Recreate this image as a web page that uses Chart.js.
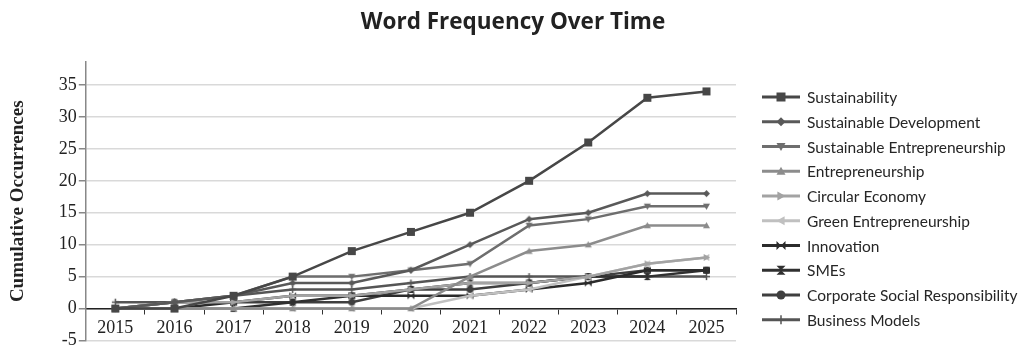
<!DOCTYPE html>
<html>
<head>
<meta charset="utf-8">
<title>Word Frequency Over Time</title>
<script src="https://cdn.jsdelivr.net/npm/chart.js@4.4.1/dist/chart.umd.min.js"></script>
<style>
    html, body { margin: 0; padding: 0; background: #fff; }
    #chartContainer { width: 1024px; height: 347px; }
</style>
</head>
<body>
<div id="chartContainer"><canvas id="myChart"></canvas></div>
<script>
// years on the x axis
const years = ['2015', '2016', '2017', '2018', '2019', '2020', '2021', '2022', '2023', '2024', '2025'];

// cumulative counts per keyword
const sustainability = [0, 0, 2, 5, 9, 12, 15, 20, 26, 33, 34];
const sustainableDevelopment = [0, 1, 2, 4, 4, 6, 10, 14, 15, 18, 18];
const sustainableEntrepreneurship = [0, 1, 2, 5, 5, 6, 7, 13, 14, 16, 16];
const entrepreneurship = [0, 0, 0, 0, 0, 0, 5, 9, 10, 13, 13];
const circularEconomy = [0, 1, 1, 2, 2, 3, 4, 4, 5, 7, 8];
const greenEntrepreneurship = [0, 0, 0, 0, 0, 0, 2, 3, 5, 7, 8];
const innovation = [0, 0, 1, 2, 2, 2, 2, 3, 4, 6, 6];
const smes = [0, 0, 0, 1, 2, 3, 4, 4, 5, 5, 6];
const csr = [0, 1, 1, 1, 1, 3, 3, 4, 5, 6, 6];
const businessModels = [1, 1, 2, 3, 3, 4, 5, 5, 5, 5, 5];

const seriesNames = ['Sustainability', 'Sustainable Development', 'Sustainable Entrepreneurship',
    'Entrepreneurship', 'Circular Economy', 'Green Entrepreneurship', 'Innovation', 'SMEs',
    'Corporate Social Responsibility', 'Business Models'];
const seriesValues = [sustainability, sustainableDevelopment, sustainableEntrepreneurship,
    entrepreneurship, circularEconomy, greenEntrepreneurship, innovation, smes, csr, businessModels];

// y axis tick values
const yTicks = [-5, 0, 5, 10, 15, 20, 25, 30, 35];

// look of each series
const lineColors = ['#474747', '#595959', '#6e6e6e', '#8c8c8c', '#a3a3a3', '#c0c0c0',
    '#2b2b2b', '#303030', '#3f3f3f', '#555555'];
const markerShapes = ['square', 'diamond', 'triDown', 'triUp', 'triRight', 'triLeft',
    'bowtie', 'hourglass', 'circle', 'plus'];


// draws one marker shape centred on x/y
function drawMarker(ctx, shape, x, y, r) {
    ctx.beginPath();
    switch (shape) {
        case 'square':
            ctx.rect(x - r, y - r, 2 * r, 2 * r);
            break;
        case 'diamond':
            ctx.moveTo(x, y - r); ctx.lineTo(x + r, y); ctx.lineTo(x, y + r); ctx.lineTo(x - r, y);
            break;
        case 'triUp':
            ctx.moveTo(x, y - r); ctx.lineTo(x + r, y + r * 0.8); ctx.lineTo(x - r, y + r * 0.8);
            break;
        case 'triDown':
            ctx.moveTo(x, y + r); ctx.lineTo(x + r, y - r * 0.8); ctx.lineTo(x - r, y - r * 0.8);
            break;
        case 'triRight':
            ctx.moveTo(x + r, y); ctx.lineTo(x - r * 0.8, y - r); ctx.lineTo(x - r * 0.8, y + r);
            break;
        case 'triLeft':
            ctx.moveTo(x - r, y); ctx.lineTo(x + r * 0.8, y - r); ctx.lineTo(x + r * 0.8, y + r);
            break;
        case 'bowtie':
            ctx.moveTo(x - r, y - r); ctx.lineTo(x, y); ctx.lineTo(x - r, y + r); ctx.closePath();
            ctx.moveTo(x + r, y - r); ctx.lineTo(x, y); ctx.lineTo(x + r, y + r);
            break;
        case 'hourglass':
            ctx.moveTo(x - r, y - r); ctx.lineTo(x + r, y - r); ctx.lineTo(x, y); ctx.closePath();
            ctx.moveTo(x - r, y + r); ctx.lineTo(x + r, y + r); ctx.lineTo(x, y);
            break;
        case 'circle':
            ctx.arc(x, y, r, 0, Math.PI * 2);
            break;
        case 'plus':
            ctx.moveTo(x - r, y); ctx.lineTo(x + r, y);
            ctx.moveTo(x, y - r); ctx.lineTo(x, y + r);
            ctx.stroke();
            return;
    }
    ctx.closePath();
    ctx.fill();
}

// small canvas used as pointStyle for the lines
function markerImage(shape, color, r) {
    let c = document.createElement('canvas');
    let size = Math.ceil(r * 2 + 4);
    c.width = size;
    c.height = size;
    let g = c.getContext('2d');
    g.fillStyle = color;
    g.strokeStyle = color;
    g.lineWidth = 1.5;
    drawMarker(g, shape, size / 2, size / 2, r);
    return c;
}


// legend on the right: thick line with the marker in the middle
const sideLegend = {
    id: 'sideLegend',
    afterDraw(chart, args, opts) {
        let ctx = chart.ctx;
        let x0 = chart.chartArea.right + opts.gap;
        chart.data.datasets.forEach((ds, i) => {
            let y = opts.top + i * opts.spacing;
            ctx.save();
            ctx.strokeStyle = ds.borderColor;
            ctx.fillStyle = ds.borderColor;
            ctx.lineWidth = 3;
            ctx.beginPath();
            ctx.moveTo(x0, y);
            ctx.lineTo(x0 + opts.lineLength, y);
            ctx.stroke();
            ctx.lineWidth = 1.5;
            drawMarker(ctx, markerShapes[i], x0 + opts.lineLength / 2, y, 4.5);
            ctx.fillStyle = '#262626';
            ctx.font = opts.font;
            ctx.textBaseline = 'middle';
            ctx.fillText(ds.label, x0 + opts.lineLength + 7, y + 1);
            ctx.restore();
        });
    }
};


let datasets = seriesNames.map((name, i) => ({
    label: name,
    data: seriesValues[i],
    borderColor: lineColors[i],
    backgroundColor: lineColors[i],
    borderWidth: 2.5,
    tension: 0,
    fill: false,
    pointStyle: markerImage(markerShapes[i], lineColors[i], markerShapes[i] == 'square' ? 4 : 3.5)
}));

const serif = "'Liberation Serif', 'DejaVu Serif', serif";

const config = {
    type: 'line',
    data: { labels: years, datasets: datasets },
    options: {
        responsive: true,
        maintainAspectRatio: false,
        animation: false,
        layout: { padding: { top: 0, left: 2, right: 0, bottom: 0 } },
        plugins: {
            legend: { display: false },
            tooltip: { enabled: false },
            title: {
                display: true,
                text: 'Word Frequency Over Time',
                color: '#222',
                font: { family: "'Open Sans', sans-serif", size: 22.5, weight: 'bold' },
                padding: { top: 9, bottom: 26 }
            },
            sideLegend: { gap: 26, top: 97, spacing: 24.75, lineLength: 38, font: "15.5px Lato, sans-serif" }
        },
        scales: {
            x: {
                type: 'category',
                offset: true,
                position: { y: 0 },
                grid: { drawOnChartArea: false, drawTicks: true, tickLength: 5, offset: true, color: '#333' },
                border: { color: '#222', width: 1.5 },
                ticks: { color: '#222', font: { family: serif, size: 18 }, padding: 4, maxRotation: 0 }
            },
            y: {
                min: -5,
                max: 38.6,
                afterBuildTicks: (scale) => {
                    scale.ticks = yTicks.map(v => ({ value: v }));
                },
                grid: { color: '#d9d9d9', lineWidth: 1.5, tickLength: 7, tickColor: '#888' },
                border: { color: '#888', width: 1.5 },
                ticks: { color: '#222', font: { family: serif, size: 18, lineHeight: 0.3 }, padding: 2 },
                title: {
                    display: true,
                    text: 'Cumulative Occurrences',
                    color: '#222',
                    font: { family: serif, size: 19, weight: 'bold' },
                    padding: { top: 5, bottom: 27 }
                }
            },
            // empty axis on the right that keeps room for the legend
            legendSpace: {
                type: 'linear',
                position: 'right',
                grid: { display: false },
                border: { display: false },
                ticks: { display: false },
                afterFit: (scale) => {
                    scale.width = 288;
                }
            }
        }
    },
    plugins: [sideLegend]
};

let myChart = new Chart(document.getElementById('myChart'), config);
</script>
</body>
</html>
